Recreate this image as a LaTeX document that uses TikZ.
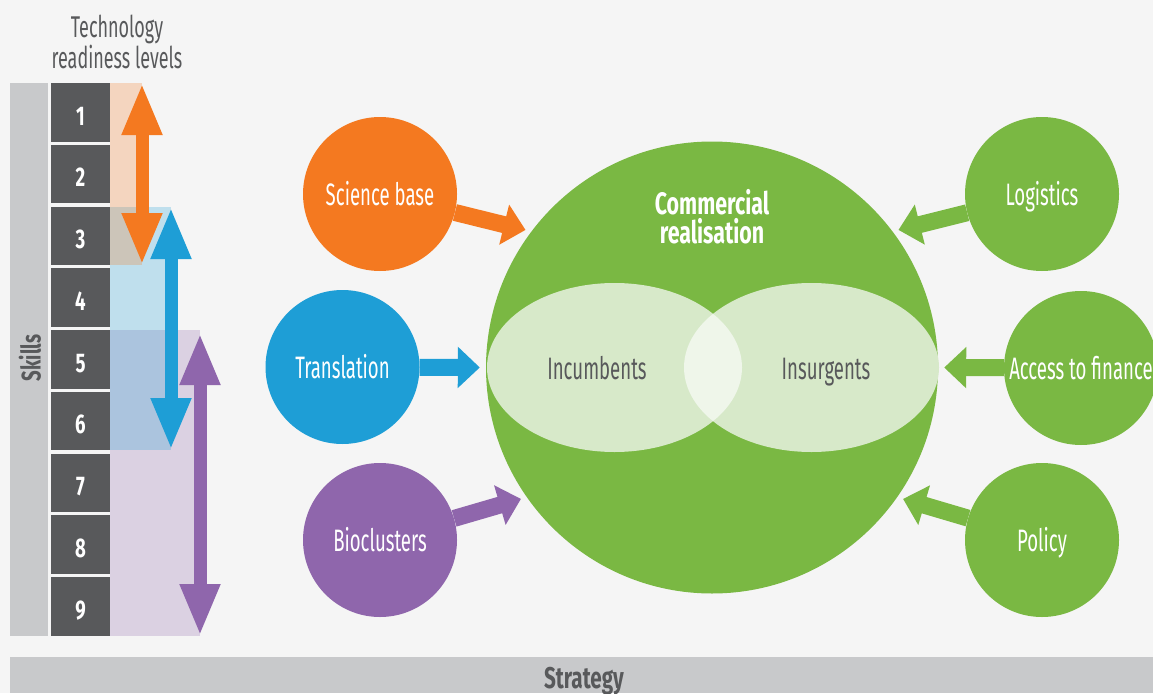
\documentclass[tikz,border=0pt]{standalone}
\usepackage{fontspec}
\setmainfont{Fira Sans}[FakeStretch=0.6]
\newfontfamily\headfont{Fira Sans}[FakeStretch=0.69]
\usetikzlibrary{arrows.meta}

\definecolor{bgGrey}{HTML}{F5F5F5}
\definecolor{barGrey}{HTML}{C8C9CB}
\definecolor{trlGrey}{HTML}{58595B}
\definecolor{sciOrange}{HTML}{F47920}
\definecolor{transBlue}{HTML}{1E9ED6}
\definecolor{bioPurple}{HTML}{8F66AC}
\definecolor{commGreen}{HTML}{7AB843}
\definecolor{setGreen}{HTML}{D7E9C9}
\definecolor{bothGreen}{HTML}{EFF6EA}

\tikzset{
  feeder/.style={circle, minimum size=154pt, inner sep=0pt, text=white,
    text height=22pt, text depth=0pt, font=\fontsize{31}{32}\selectfont},
  push/.style={line width=17pt, shorten >=6pt,
    -{Triangle[length=22pt,width=40pt]}},
  span/.style={line width=13pt,
    {Triangle[length=52pt,width=37pt]}-{Triangle[length=52pt,width=37pt]}},
}

\begin{document}
\begin{tikzpicture}[x=1pt,y=-1pt]
\fill[bgGrey] (0,0) rectangle (1153,693);
\useasboundingbox (0,0) rectangle (1153,693);

% readiness levels
\node[text=trlGrey, align=center, font=\fontsize{30}{28}\selectfont] (title) at (117,42) {Technology\\readiness levels};
\fill[barGrey] (10,83) rectangle (48,636);
\node[rotate=90, text=trlGrey, font=\headfont\fontsize{27}{28}\selectfont\bfseries] (skills) at (30,358) {Skills};
\foreach \n in {1,...,9} {
  \pgfmathsetmacro{\top}{83+61.75*(\n-1)}
  \fill[trlGrey] (51,\top) rectangle +(59,58.5);
  \node[anchor=base, text=white, font=\headfont\fontsize{27}{28}\selectfont\bfseries] (trl\n) at (80.5,\top+42) {\n};
}

% ranges: bioclusters 5-9, translation 3-6, science base 1-3
\fill[bioPurple, opacity=.25] (110,330) rectangle (200,636);
\fill[transBlue, opacity=.25] (110,207) rectangle (171,450);
\fill[sciOrange, opacity=.25] (110,83) rectangle (142,265);
\coordinate (sciTop) at (142,83);
\coordinate (sciBot) at (142,265);
\coordinate (transTop) at (171,207);
\coordinate (transBot) at (171,450);
\coordinate (bioTop) at (200,333);
\coordinate (bioBot) at (200,636);
\draw[span, sciOrange] (sciTop) -- (sciBot);
\draw[span, transBlue] (transTop) -- (transBot);
\draw[span, bioPurple] (bioTop) -- (bioBot);

% commercial realisation
\node[circle, fill=commGreen, minimum size=452pt, inner sep=0pt] (comm) at (712,367.5) {};
\fill[setGreen] (614.5,367.5) ellipse [x radius=127.5pt, y radius=84.5pt];
\fill[setGreen] (811.5,367.5) ellipse [x radius=127.5pt, y radius=84.5pt];
\begin{scope}
  \clip (614.5,367.5) ellipse [x radius=127.5pt, y radius=84.5pt];
  \fill[bothGreen] (811.5,367.5) ellipse [x radius=127.5pt, y radius=84.5pt];
\end{scope}
\node[text=white, align=center, font=\headfont\fontsize{31}{29}\selectfont\bfseries] (commTitle) at (712,217) {Commercial\\realisation};
\node[anchor=base, text=trlGrey, font=\fontsize{31}{32}\selectfont] (inc) at (597,379) {Incumbents};
\node[anchor=base, text=trlGrey, font=\fontsize{31}{32}\selectfont] (ins) at (826,379) {Insurgents};

% feeders
\node[feeder, fill=sciOrange] (sci) at (380,194) {Science base};
\node[feeder, fill=transBlue] (trans) at (342.5,367) {Translation};
\node[feeder, fill=bioPurple] (bio) at (380,540) {Bioclusters};
\node[feeder, fill=commGreen] (logi) at (1042,194) {Logistics};
\node[feeder, fill=commGreen] (fin) at (1081,368) {Access to finance};
\node[feeder, fill=commGreen] (pol) at (1042,540) {Policy};
\draw[push, sciOrange] (sci) -- (comm.143);
\draw[push, transBlue] (trans) -- (comm.180);
\draw[push, bioPurple] (bio) -- (comm.215);
\draw[push, commGreen] (logi) -- (comm.37);
\draw[push, commGreen] (fin) -- (comm.0);
\draw[push, commGreen] (pol) -- (comm.-35);

% strategy
\fill[barGrey] (10,657) rectangle (1153,693);
\node[anchor=base, text=trlGrey, font=\headfont\fontsize{30}{29}\selectfont\bfseries] (strat) at (584,688) {Strategy};
\end{tikzpicture}
\end{document}
